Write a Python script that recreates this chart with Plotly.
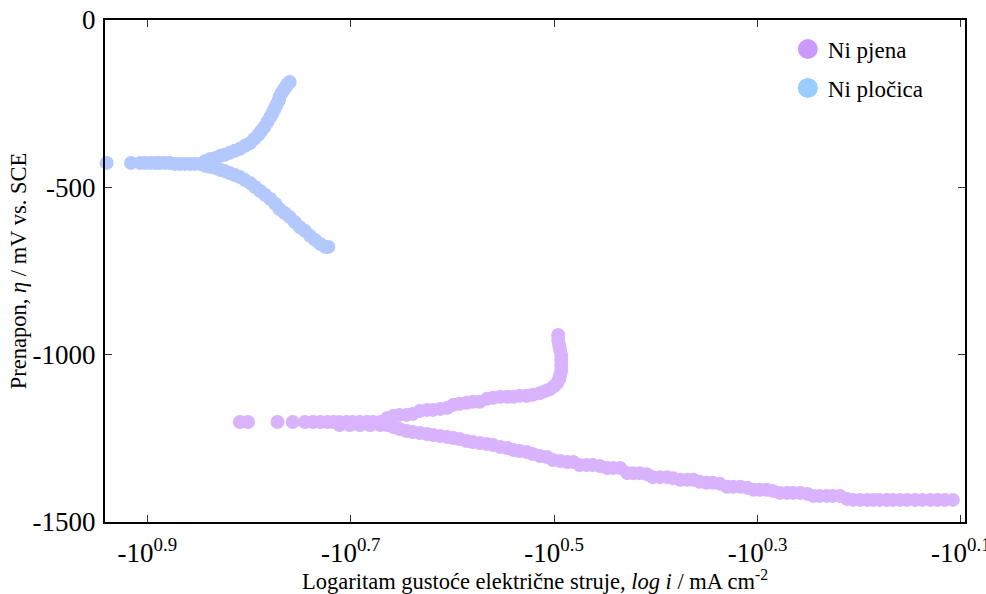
import plotly.graph_objects as go

# Ni pločica (blue): log-exponent of current density vs overpotential (mV)
plocica_x = [0.940, 0.916, 0.907, 0.902, 0.897, 0.892, 0.888, 0.883, 0.878, 0.873, 0.868, 0.863, 0.858, 0.853, 0.848,
             0.843, 0.838, 0.833, 0.828, 0.824, 0.819, 0.814, 0.809, 0.804, 0.799, 0.795, 0.791, 0.788, 0.785, 0.782,
             0.779, 0.777, 0.775, 0.773, 0.771, 0.770, 0.768, 0.766, 0.764, 0.762, 0.760,
             0.843, 0.838, 0.833, 0.828, 0.824, 0.819, 0.814, 0.809, 0.804, 0.799, 0.794, 0.789, 0.784, 0.779,
             0.774, 0.770, 0.765, 0.760, 0.755, 0.750, 0.745, 0.740, 0.735, 0.730, 0.725, 0.722]
plocica_y = [-427, -427, -427, -427, -427, -427, -427, -427, -427, -430, -430, -430, -430, -430, -430,
             -421, -415, -412, -406, -403, -397, -391, -385, -376, -368, -356, -344, -332, -320, -305,
             -290, -278, -266, -254, -242, -230, -218, -209, -200, -191, -185,
             -436, -439, -442, -448, -451, -457, -463, -469, -478, -487, -499, -511, -523, -535,
             -550, -565, -577, -589, -604, -619, -630, -645, -657, -669, -678, -678]

# Ni pjena (purple)
pjena_x = [0.809, 0.801, 0.772, 0.757, 0.745, 0.737, 0.730, 0.723, 0.717, 0.711, 0.704, 0.698, 0.691, 0.684, 0.678, 0.671,
           0.711, 0.701, 0.691, 0.681, 0.671,
           # upper branch
           0.664, 0.658, 0.652, 0.645, 0.639, 0.632, 0.625, 0.619, 0.612, 0.605, 0.599, 0.593, 0.586, 0.580, 0.573,
           0.566, 0.560, 0.553, 0.546, 0.540, 0.534, 0.527, 0.521, 0.514, 0.509, 0.504, 0.500, 0.497, 0.495, 0.494,
           0.493, 0.493, 0.493, 0.493, 0.494, 0.495, 0.496, 0.496,
           # lower branch
           0.664, 0.658, 0.652, 0.645, 0.639, 0.632, 0.625, 0.619, 0.612, 0.605, 0.599, 0.593, 0.586, 0.580, 0.573,
           0.566, 0.560, 0.553, 0.546, 0.540, 0.534, 0.527, 0.521, 0.514, 0.507, 0.501, 0.494, 0.487, 0.481, 0.475,
           0.468, 0.462, 0.455, 0.448, 0.442, 0.435, 0.428, 0.422, 0.416, 0.409, 0.403, 0.396, 0.389, 0.383, 0.376,
           0.369, 0.363, 0.357, 0.350, 0.344, 0.337, 0.330, 0.324, 0.317, 0.310, 0.304, 0.298, 0.291, 0.285, 0.278,
           0.271, 0.265, 0.258, 0.251, 0.245, 0.239, 0.232, 0.226, 0.219, 0.212, 0.206, 0.199, 0.192, 0.186, 0.180,
           0.173, 0.167, 0.160, 0.153, 0.145, 0.138, 0.130, 0.123, 0.116, 0.108]
pjena_y = [-1201, -1201, -1201, -1201, -1201, -1201, -1201, -1201, -1201, -1201, -1201, -1201, -1201, -1201, -1201, -1201,
           -1210, -1210, -1210, -1210, -1210,
           -1189, -1183, -1180, -1180, -1177, -1168, -1165, -1165, -1162, -1159, -1150, -1147, -1144, -1141, -1141,
           -1132, -1129, -1126, -1126, -1126, -1123, -1123, -1120, -1115, -1109, -1103, -1094, -1085, -1073, -1061,
           -1046, -1031, -1016, -1001, -986, -971, -956, -941,
           -1210, -1216, -1222, -1228, -1231, -1234, -1237, -1240, -1243, -1246, -1249, -1252, -1258, -1261, -1264,
           -1267, -1270, -1276, -1279, -1285, -1288, -1291, -1297, -1303, -1306, -1315, -1318, -1321, -1321, -1330,
           -1330, -1330, -1333, -1339, -1339, -1339, -1354, -1354, -1354, -1357, -1366, -1366, -1366, -1369, -1374,
           -1374, -1374, -1380, -1383, -1383, -1386, -1395, -1395, -1395, -1398, -1404, -1404, -1404, -1407, -1413,
           -1413, -1413, -1413, -1416, -1422, -1422, -1422, -1422, -1422, -1431, -1434, -1434, -1434, -1434, -1434,
           -1434, -1434, -1434, -1434, -1434, -1434, -1434, -1434, -1434, -1434]

x_tickvals = [0.9, 0.7, 0.5, 0.3, 0.1]
x_ticktext = ["-10<sup>0.9</sup>", "-10<sup>0.7</sup>", "-10<sup>0.5</sup>", "-10<sup>0.3</sup>", "-10<sup>0.1</sup>"]
y_tickvals = [0, -500, -1000, -1500]
y_ticktext = ["0", "-500", "-1000", "-1500"]

FONT = "Liberation Serif"

fig = go.Figure()
fig.add_trace(go.Scatter(x=pjena_x, y=pjena_y, mode="markers", showlegend=False, cliponaxis=False,
                         marker=dict(size=14, color="#d9b3fd", line=dict(width=0))))
fig.add_trace(go.Scatter(x=plocica_x, y=plocica_y, mode="markers", showlegend=False, cliponaxis=False,
                         marker=dict(size=14, color="#b3c8fd", line=dict(width=0))))
fig.add_trace(go.Scatter(x=[None], y=[None], mode="markers", name="Ni pjena", legendgroup="a",
                         marker=dict(size=16, color="#cc99ff", line=dict(width=4, color="#cc99ff"))))
fig.add_trace(go.Scatter(x=[None], y=[None], mode="markers", name="Ni pločica", legendgroup="b",
                         marker=dict(size=16, color="#99ccff", line=dict(width=4, color="#99ccff"))))

axis_common = dict(showline=True, linecolor="black", linewidth=2, mirror="ticks",
                   ticks="inside", ticklen=7, tickwidth=1, tickcolor="#333333",
                   showgrid=False, zeroline=False, automargin=False, ticklabeloverflow="allow",
                   tickfont=dict(family=FONT, size=27, color="black"))

fig.update_xaxes(range=[0.9416, 0.096], tickmode="array", tickvals=x_tickvals, ticktext=x_ticktext,
                 ticklabelstandoff=6,
                 title=dict(text="Logaritam gustoće električne struje, <i>log i</i> / mA cm<sup>-2</sup>",
                            font=dict(family=FONT, size=22.5, color="black"), standoff=1),
                 **axis_common)
fig.update_yaxes(range=[-1500, 0], tickmode="array", tickvals=y_tickvals, ticktext=y_ticktext,
                 ticklabelstandoff=2,
                 title=dict(text="Prenapon, <i>η</i> / mV vs. SCE",
                            font=dict(family=FONT, size=22.5, color="black"), standoff=0),
                 **axis_common)

fig.update_layout(width=986, height=594, margin=dict(l=105, r=21, t=20, b=72),
                  paper_bgcolor="white", plot_bgcolor="white",
                  font=dict(family=FONT, color="black"),
                  legend=dict(x=0.794, y=0.985, xanchor="left", yanchor="top",
                              font=dict(family=FONT, size=23, color="black"),
                              bgcolor="rgba(0,0,0,0)", itemsizing="trace", tracegroupgap=6))

fig.write_html("out.html", config={"displayModeBar": False},
               post_script="document.body.style.margin='0';document.body.style.overflow='hidden';")
